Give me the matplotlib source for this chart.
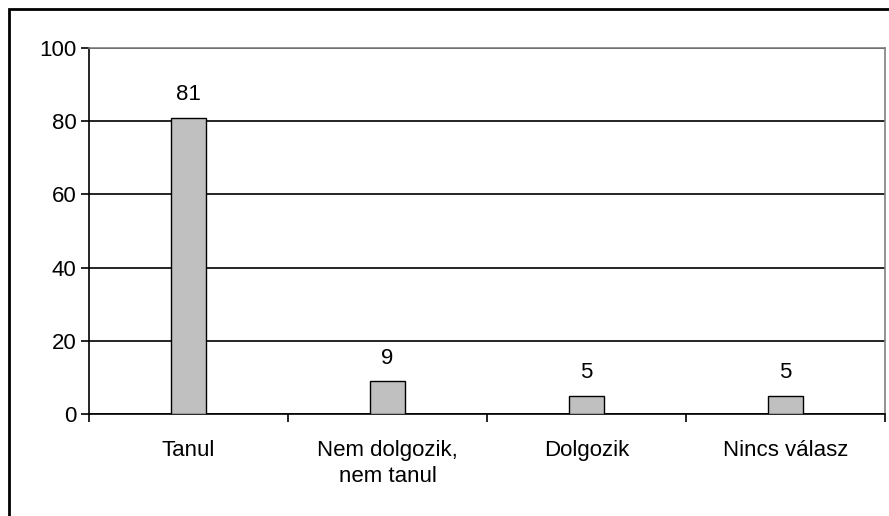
import matplotlib.pyplot as plt
from matplotlib.patches import Rectangle
import numpy as np

plt.rcParams['font.family'] = ['Liberation Sans', 'DejaVu Sans']

# data
categories = ["Tanul", "Nem dolgozik,\nnem tanul", "Dolgozik", "Nincs válasz"]
values = [81, 9, 5, 5]

W, H = 889, 516
fig = plt.figure(figsize=(W / 100, H / 100), dpi=100)

# outer chart frame (runs off the right and bottom edge)
fig.patches.append(Rectangle((9 / W, -0.05), 1.1, 1 - 9 / H + 0.05,
                             transform=fig.transFigure, fill=False,
                             edgecolor='black', linewidth=2))

ax = fig.add_axes([89 / W, 1 - 414 / H, (885 - 89) / W, (414 - 48) / H])

x = np.arange(len(categories))
ax.bar(x, values, width=0.18, color='#c0c0c0', edgecolor='black', linewidth=1, zorder=3)
for xi, v in zip(x, values):
    ax.annotate(str(v), (xi, v), xytext=(0, 9), textcoords='offset points',
                ha='center', va='bottom', fontsize=16)

ax.set_xlim(-0.5, len(categories) - 0.5)
ax.set_ylim(0, 100)
ax.set_yticks([0, 20, 40, 60, 80, 100])
ax.yaxis.grid(True, color='black', linewidth=1.2, zorder=0)
ax.set_axisbelow(True)

# category labels between boundary ticks
ax.set_xticks(np.arange(len(categories) + 1) - 0.5)
ax.set_xticklabels([])
ax.set_xticks(x, minor=True)
ax.set_xticklabels(categories, minor=True, fontsize=16, linespacing=1.27, va='top')
ax.tick_params(axis='x', which='minor', length=0, pad=19)
ax.tick_params(axis='x', which='major', direction='out', length=6, width=1.2)
ax.tick_params(axis='y', direction='out', length=6, width=1.2, labelsize=16, pad=3)

ax.spines['left'].set_linewidth(1.2)
ax.spines['bottom'].set_linewidth(1.2)
ax.spines['top'].set_color('#808080')
ax.spines['right'].set_color('#808080')
ax.spines['top'].set_linewidth(1.2)
ax.spines['right'].set_linewidth(1.2)

fig.savefig('out.png', dpi=100)
